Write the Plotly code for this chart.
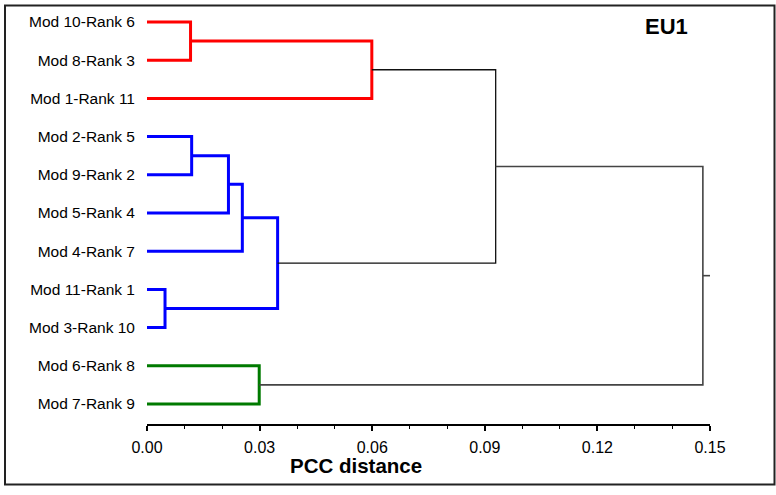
import plotly.graph_objects as go

# ---- data ----
leaf_labels = ["Mod 10-Rank 6", "Mod 8-Rank 3", "Mod 1-Rank 11", "Mod 2-Rank 5",
               "Mod 9-Rank 2", "Mod 5-Rank 4", "Mod 4-Rank 7", "Mod 11-Rank 1",
               "Mod 3-Rank 10", "Mod 6-Rank 8", "Mod 7-Rank 9"]

merge_names = ["A", "B", "C", "D", "E", "F", "G", "H", "I", "J"]
merge_left = ["Mod 10-Rank 6", "A", "Mod 2-Rank 5", "C", "D", "Mod 11-Rank 1", "E", "Mod 6-Rank 8", "B", "I"]
merge_right = ["Mod 8-Rank 3", "Mod 1-Rank 11", "Mod 9-Rank 2", "Mod 5-Rank 4", "Mod 4-Rank 7",
               "Mod 3-Rank 10", "F", "Mod 7-Rank 9", "G", "H"]
merge_heights = [0.0116, 0.0599, 0.0119, 0.0217, 0.0254, 0.0048, 0.0348, 0.0299, 0.0929, 0.1481]
merge_groups = ["red", "red", "blue", "blue", "blue", "blue", "blue", "green", "black", "root"]
root_stub_end = 0.15

x_tickvals = [0.00, 0.03, 0.06, 0.09, 0.12, 0.15]

# ---- styles ----
styles = {
    "red": dict(color="#FF0000", width=3),
    "blue": dict(color="#0000FF", width=3),
    "green": dict(color="#007A00", width=3),
    "black": dict(color="#111111", width=1.3),
    "root": dict(color="#444444", width=1.6),
}

# positions
pos = {}   # name -> (x, y)
for i, lab in enumerate(leaf_labels):
    pos[lab] = (0.0, i)

fig = go.Figure()
for name, l, r, h, g in zip(merge_names, merge_left, merge_right, merge_heights, merge_groups):
    xl, yl = pos[l]
    xr, yr = pos[r]
    fig.add_trace(go.Scatter(
        x=[xl, h, h, xr], y=[yl, yl, yr, yr], mode="lines",
        line=styles[g], hoverinfo="skip", showlegend=False))
    pos[name] = (h, (yl + yr) / 2)

rx, ry = pos[merge_names[-1]]
fig.add_trace(go.Scatter(x=[rx, root_stub_end], y=[ry, ry], mode="lines",
                         line=styles["root"], hoverinfo="skip", showlegend=False))

W, H = 776, 495
L, R, T, B = 147, 66, 10, 71
pw, ph = W - L - R, H - T - B

def px_x(p):
    return (p - L) / pw

def px_y(p):
    return (H - B - p) / ph

fig.update_layout(
    width=W, height=H,
    margin=dict(l=L, r=R, t=T, b=B, pad=0),
    paper_bgcolor="white", plot_bgcolor="white",
    font=dict(family="Liberation Sans, Arial, sans-serif", color="black"),
    xaxis=dict(
        range=[0, 0.15], tickvals=x_tickvals, tickformat=".2f",
        showgrid=False, zeroline=False,
        showline=True, linecolor="black", linewidth=1.5,
        ticks="outside", ticklen=5, tickwidth=1.5, tickcolor="black",
        tickfont=dict(size=16),
        minor=dict(dtick=0.01, tick0=0, ticks="outside", ticklen=3, tickwidth=1.2, tickcolor="black"),
        ticklabelstandoff=3,
    ),
    yaxis=dict(
        range=[10.524, -0.314], tickvals=list(range(len(leaf_labels))), ticktext=leaf_labels,
        showgrid=False, zeroline=False, showline=False, ticks="",
        tickfont=dict(size=15.5), ticklabelstandoff=11,
    ),
    shapes=[dict(type="rect", xref="paper", yref="paper",
                 x0=px_x(5), x1=px_x(774.5), y0=px_y(484.5), y1=px_y(5.5),
                 line=dict(color="#222222", width=2), fillcolor="rgba(0,0,0,0)", layer="below")],
    annotations=[
        dict(text="<b>EU1</b>", xref="paper", yref="paper", x=px_x(666.5), y=px_y(27),
             xanchor="center", yanchor="middle", showarrow=False, font=dict(size=22)),
        dict(text="<b>PCC distance</b>", xref="paper", yref="paper", x=px_x(356), y=px_y(465),
             xanchor="center", yanchor="middle", showarrow=False, font=dict(size=20.5)),
    ],
)

fig.write_html("out.html", config={"displayModeBar": False},
               post_script="document.body.style.margin='0px';document.body.style.padding='0px';")
